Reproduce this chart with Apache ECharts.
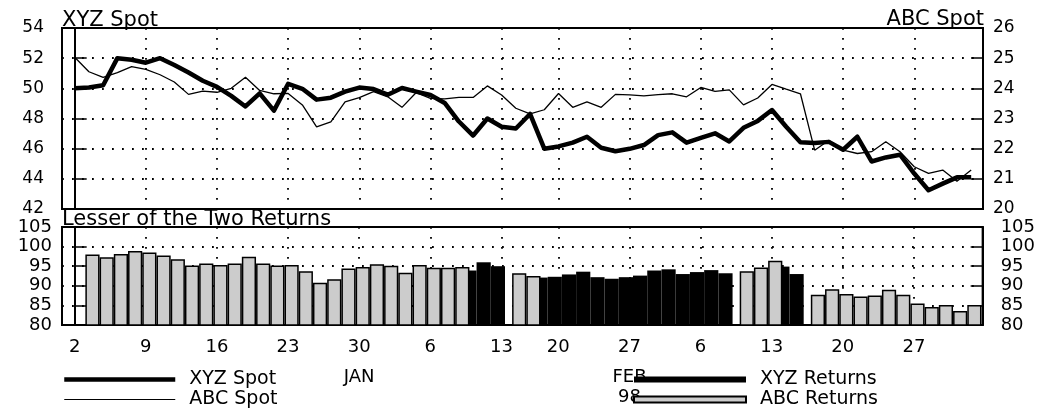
<!DOCTYPE html>
<html>
<head>
<meta charset="utf-8">
<script src="https://cdn.jsdelivr.net/npm/echarts@6/dist/echarts.min.js"></script>
<style>
  html, body { margin: 0; padding: 0; background: #fff; }
  #chart { width: 1038px; height: 414px; }
</style>
</head>
<body>
<div id="chart"></div>
<script>
// Trading days, Jan 2 - Apr 2 1998 (MM-DD)
const tradingDates = [
  '01-02','01-05','01-06','01-07','01-08','01-09','01-12','01-13','01-14','01-15','01-16',
  '01-19','01-20','01-21','01-22','01-23','01-26','01-27','01-28','01-29','01-30',
  '02-02','02-03','02-04','02-05','02-06','02-09','02-10','02-11','02-12','02-13',
  '02-17','02-18','02-19','02-20','02-23','02-24','02-25','02-26','02-27',
  '03-02','03-03','03-04','03-05','03-06','03-09','03-10','03-11','03-12','03-13',
  '03-16','03-17','03-18','03-19','03-20','03-23','03-24','03-25','03-26','03-27',
  '03-30','03-31','04-01','04-02'
];

// Spot prices
const xyzSpot = [
  50.0, 50.05, 50.2, 52.0, 51.9, 51.7, 52.0, 51.55, 51.05, 50.5,
  50.1, 49.5, 48.8, 49.67, 48.52, 50.3, 49.97, 49.25, 49.38, 49.78,
  50.05, 49.95, 49.58, 50.02, 49.78, 49.56, 49.03, 47.8, 46.87, 48.0,
  47.45, 47.34, 48.3, 46.0, 46.15, 46.4, 46.79, 46.06, 45.83, 45.99,
  46.24, 46.9, 47.08, 46.4, 46.72, 47.02, 46.48, 47.38, 47.84, 48.56,
  47.45, 46.43, 46.37, 46.45, 45.93, 46.79, 45.15, 45.42, 45.6, 44.35,
  43.24, 43.68, 44.1, 44.1
];
const abcSpot = [
  25.03, 24.55, 24.36, 24.52, 24.72, 24.63, 24.45, 24.21, 23.8, 23.91,
  23.87, 24.0, 24.37, 23.93, 23.82, 23.83, 23.45, 22.72, 22.89, 23.55,
  23.69, 23.89, 23.72, 23.37, 23.86, 23.67, 23.65, 23.7, 23.7, 24.08,
  23.78, 23.34, 23.15, 23.29, 23.83, 23.37, 23.55, 23.37, 23.8, 23.78,
  23.75, 23.79, 23.82, 23.72, 24.03, 23.9, 23.95, 23.45, 23.68, 24.13,
  23.97, 23.82, 21.95, 22.28, 21.95, 21.84, 21.9, 22.23, 21.9, 21.4,
  21.18, 21.29, 20.92, 21.29
];

// Lesser of the two returns: value goes to whichever asset had the lower return
const xyzReturns = [
  null, null, null, null, null, null, null, null, null, null,
  null, null, null, null, null, null, null, null, null, null,
  null, null, null, null, null, null, null, null, 93.9, 96.0,
  95.0, null, null, 92.1, 92.3, 92.9, 93.6, 92.2, 91.8, 92.2,
  92.6, 93.9, 94.2, 93.0, 93.5, 94.0, 93.2, null, null, null,
  94.9, 93.0, null, null, null, null, null, null, null, null,
  null, null, null, null
];
const abcReturns = [
  null, 98.0, 97.3, 98.1, 98.9, 98.5, 97.7, 96.8, 95.2, 95.7,
  95.3, 95.7, 97.4, 95.7, 95.2, 95.3, 93.7, 90.8, 91.7, 94.4,
  94.8, 95.5, 95.1, 93.3, 95.3, 94.6, 94.6, 94.8, null, null,
  null, 93.2, 92.5, null, null, null, null, null, null, null,
  null, null, null, null, null, null, null, 93.7, 94.7, 96.4,
  null, null, 87.7, 89.1, 87.9, 87.3, 87.5, 89.0, 87.7, 85.5,
  84.6, 85.1, 83.6, 85.1
];

// Weekly (Friday) ticks and their labels
const tickDates  = ['01-02','01-09','01-16','01-23','01-30','02-06','02-13','02-20','02-27','03-06','03-13','03-20','03-27'];
const tickLabels = ['2','9','16','23','30','6','13','20','27','6','13','20','27'];
const monthTickDates = ['01-30', '02-27'];
const monthNames = ['JAN', 'FEB'];
const yearLabel = '98';

const FONT = 'DejaVu Sans';
const tickIdx = tickDates.map(d => tradingDates.indexOf(d));
const X_MIN = -0.892, X_MAX = 63.83;

const dotted = { color: '#000', width: 1.8, type: [1.8, 8.2] };
const frameLine = { color: '#000', width: 2 };

function toPoints(values) {
  const out = [];
  values.forEach((v, i) => { if (v !== null) out.push([i, v]); });
  return out;
}

function dateLabel(value) {
  const i = Math.round(value);
  const k = tickIdx.indexOf(i);
  if (k < 0) return '';
  let s = '{d|' + tickLabels[k] + '}';
  const m = monthTickDates.indexOf(tradingDates[i]);
  if (m >= 0) {
    s += '\n{m|' + monthNames[m] + '}';
    if (m === monthNames.length - 1) s += '\n{y|' + yearLabel + '}';
  }
  return s;
}

function xAxisFor(gridIndex, withLabels) {
  return {
    type: 'value', gridIndex: gridIndex, min: X_MIN, max: X_MAX,
    axisLine: { show: true, lineStyle: frameLine },
    axisTick: { show: withLabels, inside: true, length: 12, customValues: tickIdx,
                lineStyle: { color: '#000', width: 1.5 } },
    splitLine: { show: true, lineStyle: dotted },
    axisLabel: {
      show: withLabels, customValues: tickIdx, margin: 10,
      formatter: dateLabel, color: '#000', fontFamily: FONT, fontSize: 18,
      rich: {
        d: { fontFamily: FONT, fontSize: 18, color: '#000', lineHeight: 24 },
        m: { fontFamily: FONT, fontSize: 18, color: '#000', lineHeight: 36 },
        y: { fontFamily: FONT, fontSize: 18, color: '#000', lineHeight: 4 }
      }
    }
  };
}

function yAxisFor(gridIndex, position, min, max, interval, margin, grid, size) {
  return {
    type: 'value', gridIndex: gridIndex, position: position,
    min: min, max: max, interval: interval,
    axisLine: { show: true, lineStyle: frameLine },
    axisTick: { show: true, inside: true, length: 12, lineStyle: { color: '#000', width: 1.5 } },
    splitLine: { show: grid, lineStyle: dotted },
    axisLabel: { margin: margin, color: '#000', fontFamily: FONT, fontSize: size }
  };
}

const legendText = { fontFamily: FONT, fontSize: 19, color: '#000', lineHeight: 20, padding: [0, 0, 0, 9] };

const chart = echarts.init(document.getElementById('chart'), null, { renderer: 'canvas' });

chart.setOption({
  animation: false,
  backgroundColor: '#fff',
  textStyle: { fontFamily: FONT },
  grid: [
    { left: 62, right: 55, top: 28, height: 181, show: true, borderColor: '#000', borderWidth: 2, backgroundColor: 'transparent' },
    { left: 62, right: 55, top: 227, height: 98, show: true, borderColor: '#000', borderWidth: 2, backgroundColor: 'transparent' }
  ],
  xAxis: [ xAxisFor(0, false), xAxisFor(1, true) ],
  yAxis: [
    yAxisFor(0, 'left', 42, 54, 2, 18, true, 17),
    yAxisFor(0, 'right', 20, 26, 1, 10, false, 17),
    yAxisFor(1, 'left', 80, 105, 5, 10, true, 18),
    yAxisFor(1, 'right', 80, 105, 5, 18, false, 18)
  ],
  legend: [
    {
      data: [
        { name: 'XYZ Spot', itemStyle: { opacity: 0 }, lineStyle: { color: '#000', width: 4.5 } },
        { name: 'ABC Spot', itemStyle: { opacity: 0 }, lineStyle: { color: '#000', width: 1.2 } }
      ],
      orient: 'vertical', left: 62, top: 369.5,
      padding: 0, itemGap: 0, itemWidth: 111, itemHeight: 6, selectedMode: false,
      textStyle: legendText
    },
    {
      data: ['XYZ Returns', 'ABC Returns'], orient: 'vertical', left: 633, top: 369.5,
      padding: 0, itemGap: 0, itemWidth: 112, itemHeight: 6, icon: 'rect', selectedMode: false,
      textStyle: legendText
    }
  ],
  graphic: [
    { type: 'text', x: 62, y: 20.5, z: 10,
      style: { text: 'XYZ Spot', font: '21px "DejaVu Sans"', fill: '#000', textAlign: 'left', textVerticalAlign: 'middle', verticalAlign: 'middle' } },
    { type: 'text', x: 984, y: 19.5, z: 10,
      style: { text: 'ABC Spot', font: '21px "DejaVu Sans"', fill: '#000', textAlign: 'right', textVerticalAlign: 'middle', verticalAlign: 'middle' } },
    { type: 'text', x: 62, y: 220, z: 10,
      style: { text: 'Lesser of the Two Returns', font: '21px "DejaVu Sans"', fill: '#000', textAlign: 'left', textVerticalAlign: 'middle', verticalAlign: 'middle' } }
  ],
  series: [
    {
      name: 'XYZ Spot', type: 'line', xAxisIndex: 0, yAxisIndex: 0,
      data: toPoints(xyzSpot), symbol: 'none', silent: true,
      lineStyle: { color: '#000', width: 4.5, join: 'round' }, itemStyle: { color: '#000' }
    },
    {
      name: 'ABC Spot', type: 'line', xAxisIndex: 0, yAxisIndex: 1,
      data: toPoints(abcSpot), symbol: 'none', silent: true,
      lineStyle: { color: '#000', width: 1.3 }, itemStyle: { color: '#000' }
    },
    {
      name: 'XYZ Returns', type: 'bar', xAxisIndex: 1, yAxisIndex: 2,
      data: toPoints(xyzReturns), barWidth: 14.2, barGap: '-50%', silent: true,
      itemStyle: { color: '#000' }
    },
    {
      name: 'ABC Returns', type: 'bar', xAxisIndex: 1, yAxisIndex: 2,
      data: toPoints(abcReturns), barWidth: 14.2, barGap: '-50%', silent: true,
      itemStyle: { color: '#cccccc', borderColor: '#000', borderWidth: 1.5 }
    }
  ]
});
</script>
</body>
</html>
